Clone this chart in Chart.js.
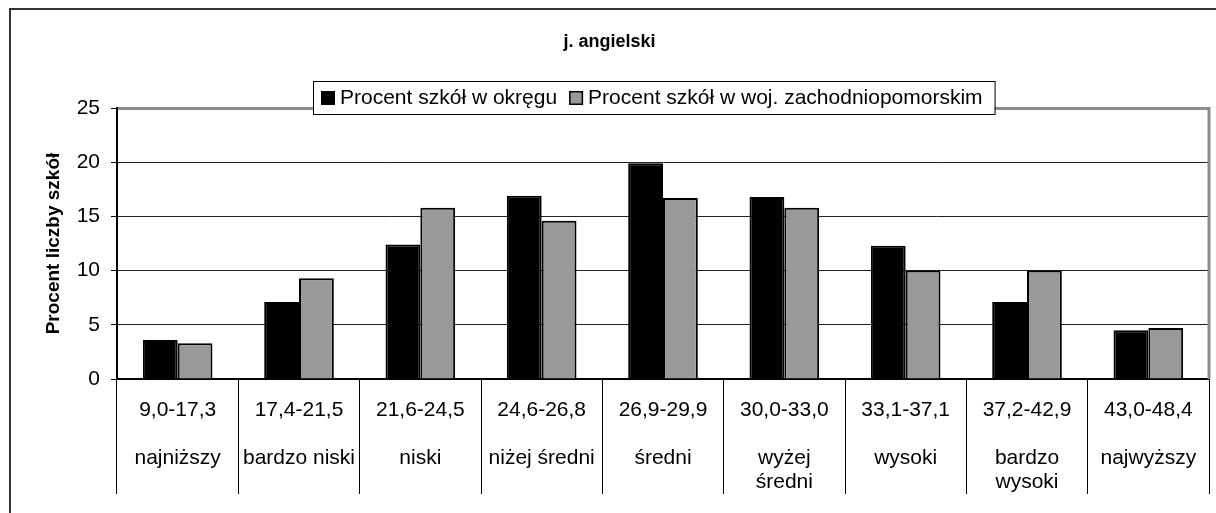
<!DOCTYPE html>
<html lang="pl">
<head>
<meta charset="UTF-8">
<title>j. angielski</title>
<script src="https://cdn.jsdelivr.net/npm/chart.js"></script>
<style>
  body { margin: 0; background: #fff; }
  #wrap { width: 1216px; height: 513px; }
</style>
</head>
<body>
<div id="wrap"><canvas id="wykres"></canvas></div>
<script>
// przedziały wyników i nazwy poziomów (staniny)
const przedzialy = ['9,0-17,3', '17,4-21,5', '21,6-24,5', '24,6-26,8', '26,9-29,9',
                    '30,0-33,0', '33,1-37,1', '37,2-42,9', '43,0-48,4'];
const poziomy = [['najniższy'], ['bardzo niski'], ['niski'], ['niżej średni'], ['średni'],
                 ['wyżej', 'średni'], ['wysoki'], ['bardzo', 'wysoki'], ['najwyższy']];

// procent szkół w każdym przedziale
const okreg = [3.6, 7.1, 12.4, 16.9, 19.9, 16.8, 12.3, 7.1, 4.5];
const wojewodztwo = [3.3, 9.3, 15.8, 14.6, 16.7, 15.8, 10.0, 10.0, 4.7];

const yMin = 0, yMax = 25, yKrok = 5;

const FONT = '"Liberation Sans", Arial, sans-serif';
Chart.defaults.font.family = FONT;
Chart.defaults.color = '#000';

// etykieta osi: przedział, pusta linia, nazwa poziomu
const etykiety = przedzialy.map((p, i) => [p, '', ...poziomy[i]]);

// tło, ramka wykresu, prawa krawędź obszaru i legenda
const ramka = {
  id: 'ramka',
  beforeDraw(chart) {
    const c = chart.ctx;
    c.save();
    c.fillStyle = '#fff';
    c.fillRect(0, 0, chart.width, chart.height);
    c.strokeStyle = '#333';
    c.lineWidth = 2;
    c.beginPath();
    c.moveTo(10, chart.height);
    c.lineTo(10, 9);
    c.lineTo(chart.width, 9);
    c.stroke();
    c.restore();
  },
  beforeDatasetsDraw(chart) {
    const a = chart.chartArea, c = chart.ctx;
    c.save();
    c.strokeStyle = '#8c8c8c';
    c.lineWidth = 3;
    c.beginPath();
    c.moveTo(a.right, a.top - 1);
    c.lineTo(a.right, a.bottom);
    c.stroke();
    c.restore();
  },
  afterDraw(chart) {
    const c = chart.ctx;
    c.save();
    c.font = '21px ' + FONT;
    const pad = 8, kw = 14, odstep = 5, miedzy = 12;
    const el = chart.data.datasets.map(ds => ({
      tekst: ds.label, kolor: ds.backgroundColor, w: c.measureText(ds.label).width
    }));
    let szer = pad + miedzy;
    el.forEach((e, i) => { szer += kw + odstep + e.w + (i ? miedzy : 0); });
    const left = Math.round(653.5 - szer / 2), top = 81, wys = 33;
    c.fillStyle = '#fff';
    c.fillRect(left, top, szer, wys);
    c.strokeStyle = '#000';
    c.lineWidth = 1;
    c.strokeRect(left + 0.5, top + 0.5, szer, wys);
    let x = left + pad;
    const cy = top + wys / 2 + 0.5;
    el.forEach((e, i) => {
      if (i) x += miedzy;
      c.fillStyle = e.kolor;
      c.fillRect(x, cy - 7, kw, kw);
      c.lineWidth = 1.5;
      c.strokeRect(x + 0.75, cy - 6.25, kw - 1.5, kw - 1.5);
      x += kw + odstep;
      c.fillStyle = '#000';
      c.textBaseline = 'middle';
      c.fillText(e.tekst, x, cy);
      x += e.w;
    });
    c.restore();
  }
};

new Chart(document.getElementById('wykres'), {
  type: 'bar',
  data: {
    labels: etykiety,
    datasets: [
      { label: 'Procent szkół w okręgu', data: okreg,
        backgroundColor: '#000', borderColor: '#000', borderWidth: 2 },
      { label: 'Procent szkół w woj. zachodniopomorskim', data: wojewodztwo,
        backgroundColor: '#999', borderColor: '#000', borderWidth: 2 }
    ]
  },
  options: {
    responsive: true,
    maintainAspectRatio: false,
    animation: false,
    events: [],
    categoryPercentage: 0.574,
    barPercentage: 1,
    layout: { padding: { left: 10, right: 7, top: 0, bottom: 0 } },
    plugins: {
      legend: { display: false },
      tooltip: { enabled: false },
      title: {
        display: true, text: 'j. angielski', color: '#000',
        font: { size: 18, weight: 'bold' },
        padding: { top: 31, bottom: 55.4 }
      }
    },
    scales: {
      x: {
        grid: { offset: true, drawOnChartArea: false, drawTicks: true,
                tickLength: 115, color: '#000', lineWidth: 1 },
        border: { display: true, color: '#000', width: 2 },
        ticks: { color: '#000', font: { size: 21, lineHeight: '24px' },
                 padding: -96, maxRotation: 0, autoSkip: false },
        afterFit(s) { s.height = 134; }
      },
      y: {
        min: yMin, max: yMax,
        ticks: { stepSize: yKrok, color: '#000', font: { size: 21 }, padding: 11 },
        grid: {
          color: ctx => (ctx.tick && ctx.tick.value === yMax) ? '#8c8c8c' : '#222',
          lineWidth: ctx => (ctx.tick && ctx.tick.value === yMax) ? 3 : 1,
          tickLength: 6, tickColor: '#000', tickWidth: 1
        },
        border: { color: '#000', width: 2 },
        title: { display: true, text: 'Procent liczby szkół', color: '#000',
                 font: { size: 19, weight: 'bold' }, padding: { top: 32, bottom: 0 } },
        afterFit(s) { s.width = 107; }
      }
    }
  },
  plugins: [ramka]
});
</script>
</body>
</html>
